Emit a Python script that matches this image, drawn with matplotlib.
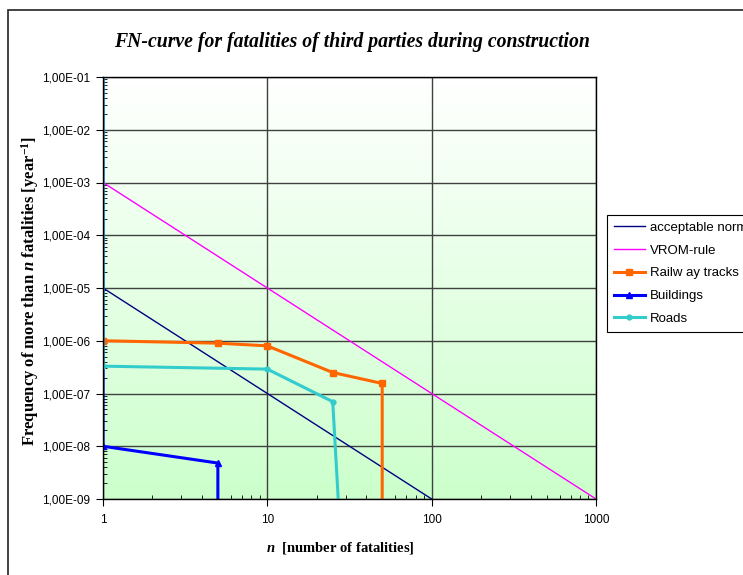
import matplotlib
matplotlib.use("Agg")
import matplotlib.pyplot as plt
import numpy as np
from matplotlib.ticker import FuncFormatter, LogLocator, NullFormatter
from matplotlib.patches import Rectangle

plt.rcParams['font.family'] = ['Liberation Sans', 'DejaVu Sans']
plt.rcParams['mathtext.fontset'] = 'custom'
plt.rcParams['mathtext.rm'] = 'Liberation Serif:bold'
plt.rcParams['mathtext.it'] = 'Liberation Serif:bold:italic'
plt.rcParams['mathtext.bf'] = 'Liberation Serif:bold'

# data
n_norm = [1, 100]
f_norm = [1e-5, 1e-9]

n_vrom = [1, 1000]
f_vrom = [1e-3, 1e-9]

n_rail = [1, 5, 10, 25, 50, 50]
f_rail = [1e-6, 9e-7, 8e-7, 2.5e-7, 1.55e-7, 1e-9]

n_build = [1, 1, 5, 5]
f_build = [1e-1, 1e-8, 4.8e-9, 1e-9]

n_roads = [1, 1, 10, 25, 27]
f_roads = [1e-1, 3.3e-7, 2.9e-7, 7e-8, 1e-9]

xticks = [1, 10, 100, 1000]

fig = plt.figure(figsize=(7.43, 5.75), dpi=100)
ax = fig.add_axes([103/743, 1 - 499/575, 493/743, 422/575])

# outer chart border
fig.patches.append(Rectangle((8/743, -0.1), 1.2, (575 - 10)/575 + 0.1,
                             transform=fig.transFigure, fill=False,
                             edgecolor='#222222', lw=1.2))

# gradient background (white at top, light green at bottom)
top = np.array([1.0, 1.0, 1.0])
bot = np.array([0.80, 1.0, 0.80])
t = np.linspace(0, 1, 256)[:, None]
grad = (top * (1 - t) + bot * t)[:, None, :]
ax.imshow(grad, extent=[0, 1, 0, 1], transform=ax.transAxes, aspect='auto', zorder=0)

ax.set_xscale('log')
ax.set_yscale('log')
ax.set_xlim(1, 1000)
ax.set_ylim(1e-9, 1e-1)

ax.grid(True, which='major', color='#404040', lw=1, zorder=1)

ax.plot(n_norm, f_norm, color='#000080', lw=1, label='acceptable norm', zorder=3)
ax.plot(n_vrom, f_vrom, color='#ff00ff', lw=1, label='VROM-rule', zorder=3)
ax.plot(n_rail, f_rail, color='#ff6600', lw=2.2, marker='s', ms=5,
        markevery=slice(0, 5), label='Railw ay tracks', zorder=4)
ax.plot(n_build, f_build, color='#0000ff', lw=2.2, marker='^', ms=5,
        markevery=[1, 2], label='Buildings', zorder=5)
ax.plot(n_roads, f_roads, color='#33cccc', lw=2.2, marker='o', ms=3.5,
        markevery=[1, 2, 3], label='Roads', zorder=6)

ax.yaxis.set_major_locator(LogLocator(base=10, numticks=20))
ax.yaxis.set_minor_locator(LogLocator(base=10, subs=np.arange(2, 10), numticks=20))
ax.yaxis.set_major_formatter(FuncFormatter(lambda v, p: f"{v:.2E}".replace('.', ',')))
ax.yaxis.set_minor_formatter(NullFormatter())
ax.set_xticks(xticks)
ax.set_xticklabels([str(v) for v in xticks])
ax.xaxis.set_minor_formatter(NullFormatter())
ax.tick_params(which='major', direction='out', length=5, labelsize=8.5, pad=4)
ax.tick_params(which='minor', direction='in', length=3)
ax.tick_params(axis='x', which='major', pad=6)

for s in ax.spines.values():
    s.set_color('black')
    s.set_linewidth(1)
    s.set_zorder(7)

fig.text(352/743, 1 - 42/575, 'FN-curve for fatalities of third parties during construction',
         ha='center', va='center', fontsize=14.2, fontweight='bold', style='italic',
         family='Liberation Serif')
fig.text(340/743, 1 - 548/575, r'$\it{n}$  [number of fatalities]', ha='center',
         va='center', fontsize=10.5, fontweight='bold', family='Liberation Serif')
fig.text(30/743, 1 - 291/575, r'Frequency of more than $\it{n}$ fatalities [year$^{\rm{-1}}$]',
         ha='center', va='center', rotation=90, fontsize=12, fontweight='bold',
         family='Liberation Serif')

leg = ax.legend(loc='upper left', bbox_to_anchor=(607/743, 1 - 215/575),
                bbox_transform=fig.transFigure, fancybox=False, frameon=True,
                edgecolor='black', framealpha=1, fontsize=9.5, handlelength=2.4,
                labelspacing=0.8, borderaxespad=0, handletextpad=0.38,
                borderpad=0.5)
leg.get_frame().set_linewidth(0.8)

fig.savefig('out.png', dpi=100)
